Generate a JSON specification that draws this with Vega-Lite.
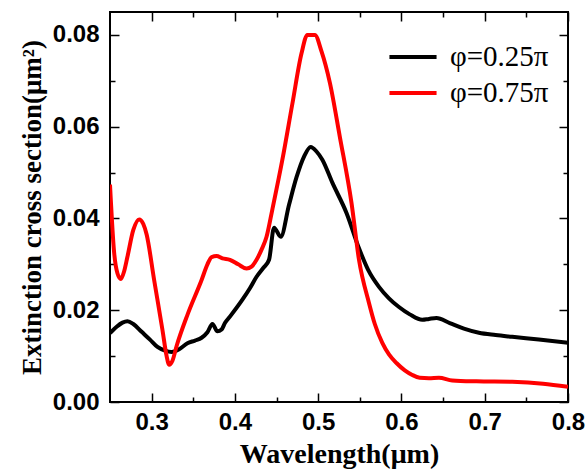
{
  "$schema": "https://vega.github.io/schema/vega-lite/v6.json",
  "width": 458,
  "height": 390,
  "autosize": {"type": "none"},
  "padding": {"left": 110, "top": 12, "right": 19, "bottom": 70},
  "background": "white",
  "config": {
    "view": {"stroke": "black", "strokeWidth": 2},
    "axis": {"grid": false, "domain": false, "tickColor": "black", "tickWidth": 1.5, "labelColor": "black", "titleColor": "black"}
  },
  "data": {
    "values": [
      {"wl": 0.25, "ext": 0.0150, "s": "φ=0.25π"},
      {"wl": 0.258, "ext": 0.0164, "s": "φ=0.25π"},
      {"wl": 0.265, "ext": 0.0173, "s": "φ=0.25π"},
      {"wl": 0.271, "ext": 0.0176, "s": "φ=0.25π"},
      {"wl": 0.278, "ext": 0.0170, "s": "φ=0.25π"},
      {"wl": 0.288, "ext": 0.0153, "s": "φ=0.25π"},
      {"wl": 0.298, "ext": 0.0136, "s": "φ=0.25π"},
      {"wl": 0.307, "ext": 0.0120, "s": "φ=0.25π"},
      {"wl": 0.316, "ext": 0.0112, "s": "φ=0.25π"},
      {"wl": 0.324, "ext": 0.0109, "s": "φ=0.25π"},
      {"wl": 0.333, "ext": 0.0115, "s": "φ=0.25π"},
      {"wl": 0.343, "ext": 0.0128, "s": "φ=0.25π"},
      {"wl": 0.352, "ext": 0.0134, "s": "φ=0.25π"},
      {"wl": 0.36, "ext": 0.0140, "s": "φ=0.25π"},
      {"wl": 0.367, "ext": 0.0152, "s": "φ=0.25π"},
      {"wl": 0.373, "ext": 0.0170, "s": "φ=0.25π"},
      {"wl": 0.379, "ext": 0.0154, "s": "φ=0.25π"},
      {"wl": 0.384, "ext": 0.0158, "s": "φ=0.25π"},
      {"wl": 0.388, "ext": 0.0172, "s": "φ=0.25π"},
      {"wl": 0.394, "ext": 0.0186, "s": "φ=0.25π"},
      {"wl": 0.409, "ext": 0.0223, "s": "φ=0.25π"},
      {"wl": 0.418, "ext": 0.0248, "s": "φ=0.25π"},
      {"wl": 0.426, "ext": 0.0273, "s": "φ=0.25π"},
      {"wl": 0.434, "ext": 0.0292, "s": "φ=0.25π"},
      {"wl": 0.441, "ext": 0.0310, "s": "φ=0.25π"},
      {"wl": 0.447, "ext": 0.0380, "s": "φ=0.25π"},
      {"wl": 0.455, "ext": 0.0360, "s": "φ=0.25π"},
      {"wl": 0.465, "ext": 0.0430, "s": "φ=0.25π"},
      {"wl": 0.474, "ext": 0.0490, "s": "φ=0.25π"},
      {"wl": 0.483, "ext": 0.0535, "s": "φ=0.25π"},
      {"wl": 0.491, "ext": 0.0556, "s": "φ=0.25π"},
      {"wl": 0.498, "ext": 0.0546, "s": "φ=0.25π"},
      {"wl": 0.505, "ext": 0.0528, "s": "φ=0.25π"},
      {"wl": 0.517, "ext": 0.0478, "s": "φ=0.25π"},
      {"wl": 0.534, "ext": 0.0412, "s": "φ=0.25π"},
      {"wl": 0.549, "ext": 0.0335, "s": "φ=0.25π"},
      {"wl": 0.56, "ext": 0.0288, "s": "φ=0.25π"},
      {"wl": 0.573, "ext": 0.0251, "s": "φ=0.25π"},
      {"wl": 0.585, "ext": 0.0226, "s": "φ=0.25π"},
      {"wl": 0.597, "ext": 0.0207, "s": "φ=0.25π"},
      {"wl": 0.61, "ext": 0.0191, "s": "φ=0.25π"},
      {"wl": 0.625, "ext": 0.0179, "s": "φ=0.25π"},
      {"wl": 0.633, "ext": 0.0181, "s": "φ=0.25π"},
      {"wl": 0.642, "ext": 0.0183, "s": "φ=0.25π"},
      {"wl": 0.658, "ext": 0.0172, "s": "φ=0.25π"},
      {"wl": 0.675, "ext": 0.0160, "s": "φ=0.25π"},
      {"wl": 0.693, "ext": 0.0151, "s": "φ=0.25π"},
      {"wl": 0.713, "ext": 0.0146, "s": "φ=0.25π"},
      {"wl": 0.733, "ext": 0.0142, "s": "φ=0.25π"},
      {"wl": 0.765, "ext": 0.0136, "s": "φ=0.25π"},
      {"wl": 0.8, "ext": 0.0129, "s": "φ=0.25π"},

      {"wl": 0.25, "ext": 0.0474, "s": "φ=0.75π"},
      {"wl": 0.255, "ext": 0.0325, "s": "φ=0.75π"},
      {"wl": 0.259, "ext": 0.0280, "s": "φ=0.75π"},
      {"wl": 0.263, "ext": 0.0268, "s": "φ=0.75π"},
      {"wl": 0.267, "ext": 0.0285, "s": "φ=0.75π"},
      {"wl": 0.271, "ext": 0.0317, "s": "φ=0.75π"},
      {"wl": 0.278, "ext": 0.0375, "s": "φ=0.75π"},
      {"wl": 0.285, "ext": 0.0398, "s": "φ=0.75π"},
      {"wl": 0.29, "ext": 0.0388, "s": "φ=0.75π"},
      {"wl": 0.294, "ext": 0.0365, "s": "φ=0.75π"},
      {"wl": 0.303, "ext": 0.0266, "s": "φ=0.75π"},
      {"wl": 0.313, "ext": 0.0157, "s": "φ=0.75π"},
      {"wl": 0.318, "ext": 0.0100, "s": "φ=0.75π"},
      {"wl": 0.321, "ext": 0.0081, "s": "φ=0.75π"},
      {"wl": 0.325, "ext": 0.0090, "s": "φ=0.75π"},
      {"wl": 0.33, "ext": 0.0122, "s": "φ=0.75π"},
      {"wl": 0.343, "ext": 0.0190, "s": "φ=0.75π"},
      {"wl": 0.36, "ext": 0.0266, "s": "φ=0.75π"},
      {"wl": 0.367, "ext": 0.0300, "s": "φ=0.75π"},
      {"wl": 0.372, "ext": 0.0316, "s": "φ=0.75π"},
      {"wl": 0.378, "ext": 0.0318, "s": "φ=0.75π"},
      {"wl": 0.385, "ext": 0.0313, "s": "φ=0.75π"},
      {"wl": 0.394, "ext": 0.0310, "s": "φ=0.75π"},
      {"wl": 0.404, "ext": 0.0300, "s": "φ=0.75π"},
      {"wl": 0.414, "ext": 0.0291, "s": "φ=0.75π"},
      {"wl": 0.42, "ext": 0.0295, "s": "φ=0.75π"},
      {"wl": 0.426, "ext": 0.0310, "s": "φ=0.75π"},
      {"wl": 0.432, "ext": 0.0332, "s": "φ=0.75π"},
      {"wl": 0.438, "ext": 0.0360, "s": "φ=0.75π"},
      {"wl": 0.445, "ext": 0.0420, "s": "φ=0.75π"},
      {"wl": 0.457, "ext": 0.0528, "s": "φ=0.75π"},
      {"wl": 0.469, "ext": 0.0650, "s": "φ=0.75π"},
      {"wl": 0.48, "ext": 0.0760, "s": "φ=0.75π"},
      {"wl": 0.487, "ext": 0.0800, "s": "φ=0.75π"},
      {"wl": 0.496, "ext": 0.0800, "s": "φ=0.75π"},
      {"wl": 0.504, "ext": 0.0764, "s": "φ=0.75π"},
      {"wl": 0.514, "ext": 0.0696, "s": "φ=0.75π"},
      {"wl": 0.526, "ext": 0.0578, "s": "φ=0.75π"},
      {"wl": 0.54, "ext": 0.0434, "s": "φ=0.75π"},
      {"wl": 0.549, "ext": 0.0310, "s": "φ=0.75π"},
      {"wl": 0.561, "ext": 0.0216, "s": "φ=0.75π"},
      {"wl": 0.568, "ext": 0.0170, "s": "φ=0.75π"},
      {"wl": 0.577, "ext": 0.0129, "s": "φ=0.75π"},
      {"wl": 0.585, "ext": 0.0104, "s": "φ=0.75π"},
      {"wl": 0.594, "ext": 0.0085, "s": "φ=0.75π"},
      {"wl": 0.604, "ext": 0.0069, "s": "φ=0.75π"},
      {"wl": 0.613, "ext": 0.0059, "s": "φ=0.75π"},
      {"wl": 0.622, "ext": 0.0053, "s": "φ=0.75π"},
      {"wl": 0.633, "ext": 0.0052, "s": "φ=0.75π"},
      {"wl": 0.645, "ext": 0.0053, "s": "φ=0.75π"},
      {"wl": 0.661, "ext": 0.0047, "s": "φ=0.75π"},
      {"wl": 0.69, "ext": 0.0045, "s": "φ=0.75π"},
      {"wl": 0.733, "ext": 0.0044, "s": "φ=0.75π"},
      {"wl": 0.77, "ext": 0.0040, "s": "φ=0.75π"},
      {"wl": 0.8, "ext": 0.0033, "s": "φ=0.75π"}
    ]
  },
  "resolve": {"axis": {"x": "independent", "y": "independent"}},
  "layer": [
    {
      "mark": {"type": "line", "strokeWidth": 4, "clip": true, "interpolate": "monotone"},
      "encoding": {
        "x": {
          "field": "wl", "type": "quantitative",
          "scale": {"domain": [0.25, 0.8], "nice": false, "zero": false},
          "axis": {
            "orient": "bottom", "values": [0.3, 0.4, 0.5, 0.6, 0.7, 0.8], "format": ".1f",
            "tickSize": -9, "labelPadding": 17, "labelFont": "Liberation Sans", "labelFontWeight": "bold", "labelFontSize": 24,
            "labelFlush": false, "labelOverlap": false,
            "title": "Wavelength(μm)", "titleFont": "Liberation Serif", "titleFontWeight": "bold", "titleFontSize": 28, "titlePadding": 6
          }
        },
        "y": {
          "field": "ext", "type": "quantitative",
          "scale": {"domain": [0, 0.085], "nice": false},
          "axis": {
            "orient": "left", "values": [0, 0.02, 0.04, 0.06, 0.08], "format": ".2f",
            "tickSize": -9, "labelPadding": 20, "labelFont": "Liberation Sans", "labelFontWeight": "bold", "labelFontSize": 24,
            "labelFlush": false, "labelOverlap": false,
            "title": "Extinction cross section(μm²)", "titleFont": "Liberation Serif", "titleFontWeight": "bold", "titleFontSize": 27, "titlePadding": 6
          }
        },
        "color": {
          "field": "s", "type": "nominal",
          "scale": {"domain": ["φ=0.25π", "φ=0.75π"], "range": ["#000000", "#ff0000"]},
          "legend": {
            "title": null, "orient": "none", "legendX": 282, "legendY": 24, "padding": 0,
            "symbolType": "M-1.24,0H1.24", "symbolSize": 1444, "symbolStrokeWidth": 4,
            "labelFont": "Liberation Serif", "labelFontSize": 29, "labelOffset": 16, "rowPadding": 0,
            "labelColor": "black"
          }
        }
      }
    },
    {
      "mark": {"type": "line", "opacity": 0},
      "encoding": {
        "x": {"field": "wl", "type": "quantitative", "axis": {"orient": "bottom", "values": [0.35, 0.45, 0.55, 0.65, 0.75], "tickSize": -5, "labels": false, "title": null}},
        "y": {"field": "ext", "type": "quantitative", "axis": {"orient": "left", "values": [0.01, 0.03, 0.05, 0.07], "tickSize": -5, "labels": false, "title": null}}
      }
    },
    {
      "mark": {"type": "line", "opacity": 0},
      "encoding": {
        "x": {"field": "wl", "type": "quantitative", "axis": {"orient": "top", "values": [0.3, 0.4, 0.5, 0.6, 0.7, 0.8], "tickSize": -9, "labels": false, "title": null}},
        "y": {"field": "ext", "type": "quantitative", "axis": {"orient": "right", "values": [0, 0.02, 0.04, 0.06, 0.08], "tickSize": -9, "labels": false, "title": null}}
      }
    },
    {
      "mark": {"type": "line", "opacity": 0},
      "encoding": {
        "x": {"field": "wl", "type": "quantitative", "axis": {"orient": "top", "values": [0.35, 0.45, 0.55, 0.65, 0.75], "tickSize": -5, "labels": false, "title": null}},
        "y": {"field": "ext", "type": "quantitative", "axis": {"orient": "right", "values": [0.01, 0.03, 0.05, 0.07], "tickSize": -5, "labels": false, "title": null}}
      }
    }
  ]
}
